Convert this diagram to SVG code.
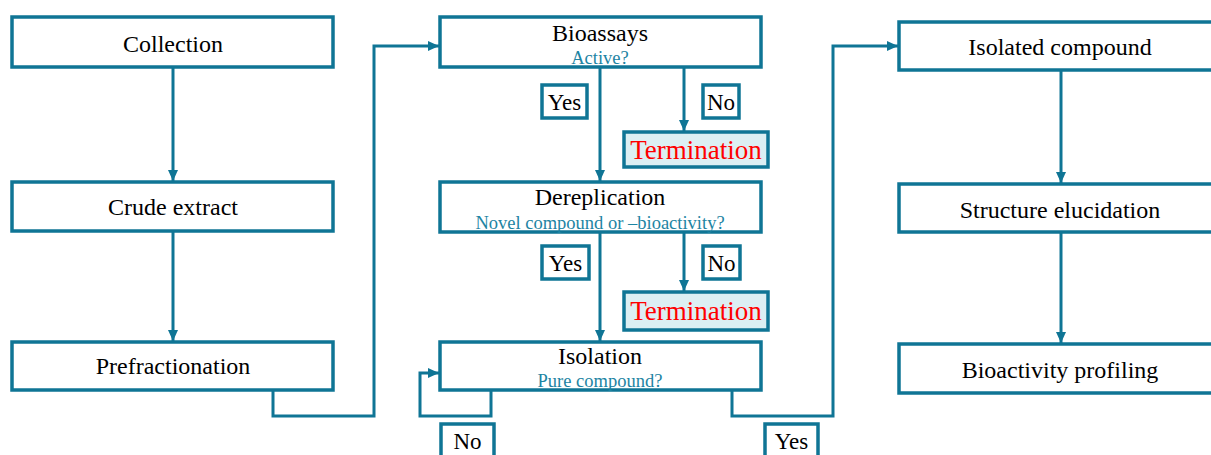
<svg xmlns="http://www.w3.org/2000/svg" width="1211" height="455" viewBox="0 0 1211 455">
<defs>
<style>
.box{fill:#fff;stroke:#0f7595;stroke-width:3.5}
.term{fill:#dceff3;stroke:#0f7595;stroke-width:3.5}
.lbl{fill:#fff;stroke:#0f7595;stroke-width:3.5}
.t{font-family:"Liberation Serif","Times New Roman",serif;font-size:24px;fill:#000;text-anchor:middle}
.s{font-family:"Liberation Serif","Times New Roman",serif;font-size:18.5px;fill:#1d84a3;text-anchor:middle}
.r{font-family:"Liberation Serif","Times New Roman",serif;font-size:27px;fill:#f00;text-anchor:middle}
.y{font-family:"Liberation Serif","Times New Roman",serif;font-size:23px;fill:#000;text-anchor:middle}
.c{fill:none;stroke:#0f7595;stroke-width:3;marker-end:url(#ah)}
</style>
<marker id="ah" markerUnits="userSpaceOnUse" markerWidth="12" markerHeight="12" refX="11" refY="6" orient="auto">
<path d="M0,1 L11,6 L0,11 Z" fill="#0f7595"/>
</marker>
</defs>
<g id="connectors">
<path class="c" d="M173 67 V181"/>
<path class="c" d="M173 231 V341"/>
<path class="c" d="M273 390 V416 H374 V46 H439"/>
<path class="c" d="M600 67 V181"/>
<path class="c" d="M684 67 V131"/>
<path class="c" d="M600 232 V341"/>
<path class="c" d="M684 232 V291"/>
<path class="c" d="M491 390 V416 H420 V373 H439"/>
<path class="c" d="M732 390 V416 H833 V46 H898"/>
<path class="c" d="M1061 70 V183"/>
<path class="c" d="M1061 232 V343"/>
</g>
<g id="collection"><rect class="box" x="12" y="17" width="321" height="50"/><text class="t" x="173" y="52">Collection</text></g>
<g id="crude"><rect class="box" x="12" y="182" width="321" height="49"/><text class="t" x="173" y="215">Crude extract</text></g>
<g id="prefractionation"><rect class="box" x="12" y="342" width="321" height="48"/><text class="t" x="173" y="374">Prefractionation</text></g>
<g id="bioassays"><rect class="box" x="440" y="17" width="321" height="50"/><text class="t" x="600" y="41">Bioassays</text><text class="s" x="600" y="64">Active?</text></g>
<g id="yes1"><rect class="lbl" x="542" y="85" width="45" height="33"/><text class="y" x="564.5" y="110">Yes</text></g>
<g id="no1"><rect class="lbl" x="703" y="85" width="36" height="33"/><text class="y" x="721" y="110">No</text></g>
<g id="term1"><rect class="term" x="624" y="132" width="144" height="35"/><text class="r" x="696" y="159">Termination</text></g>
<g id="dereplication"><rect class="box" x="440" y="182" width="321" height="50"/><text class="t" x="600" y="205">Dereplication</text><text class="s" x="600" y="229">Novel compound or –bioactivity?</text></g>
<g id="yes2"><rect class="lbl" x="542" y="246" width="47" height="33"/><text class="y" x="565.5" y="271">Yes</text></g>
<g id="no2"><rect class="lbl" x="703" y="246" width="37" height="33"/><text class="y" x="721.5" y="271">No</text></g>
<g id="term2"><rect class="term" x="624" y="292" width="144" height="38"/><text class="r" x="696" y="320">Termination</text></g>
<g id="isolation"><rect class="box" x="440" y="342" width="321" height="48"/><text class="t" x="600" y="364">Isolation</text><text class="s" x="600" y="387">Pure compound?</text></g>
<g id="no3"><rect class="lbl" x="441" y="424" width="53" height="40"/><text class="y" x="467.5" y="449">No</text></g>
<g id="yes3"><rect class="lbl" x="765" y="424" width="53" height="40"/><text class="y" x="791.5" y="449">Yes</text></g>
<g id="isolated"><rect class="box" x="899" y="22" width="320" height="48"/><text class="t" x="1060" y="55">Isolated compound</text></g>
<g id="structure"><rect class="box" x="899" y="184" width="320" height="48"/><text class="t" x="1060" y="218">Structure elucidation</text></g>
<g id="bioactivity"><rect class="box" x="899" y="344" width="320" height="49"/><text class="t" x="1060" y="378">Bioactivity profiling</text></g>
</svg>
